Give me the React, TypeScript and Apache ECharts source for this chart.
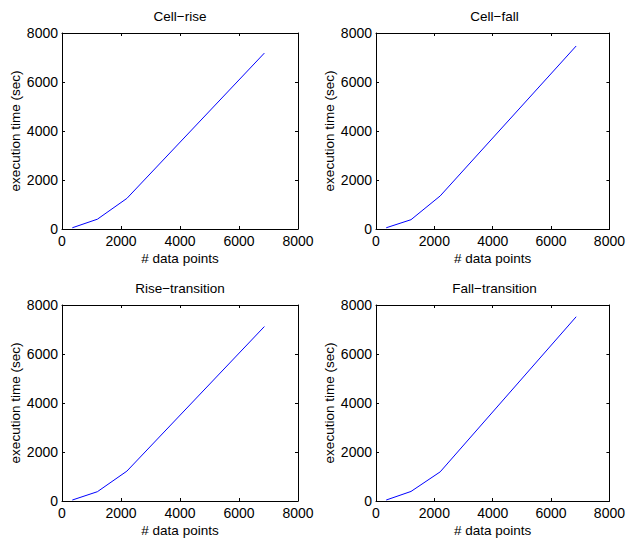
import React, { useEffect, useRef } from "react";
import * as echarts from "echarts";

const titles = ["Cell−rise", "Cell−fall", "Rise−transition", "Fall−transition"];
const dataPoints = [350, 1200, 2200, 6860];
const cellRise = [50, 400, 1250, 7180];
const cellFall = [50, 380, 1350, 7470];
const riseTransition = [40, 380, 1220, 7120];
const fallTransition = [40, 390, 1190, 7520];
const seriesValues = [cellRise, cellFall, riseTransition, fallTransition];
const xAxisName = "# data points";
const yAxisName = "execution time (sec)";

const grids = [
  { left: 62, top: 33, width: 236, height: 196 },
  { left: 376, top: 33, width: 237, height: 196 },
  { left: 62, top: 305, width: 236, height: 196 },
  { left: 376, top: 305, width: 237, height: 196 },
];

const FONT = "Liberation Sans, Arial, Helvetica, sans-serif";

export default function App() {
  const ref = useRef<HTMLDivElement>(null);
  useEffect(() => {
    if (!ref.current) return;
    const chart = echarts.init(ref.current, null, { renderer: "svg" });
    const axisLine = { show: true, onZero: false, lineStyle: { color: "#000", width: 1 } };
    const tick = { show: true, inside: true, length: 3, lineStyle: { color: "#000" } };
    const fmt = (v: number) => String(v);
    const xAxis: any[] = [];
    const yAxis: any[] = [];
    const series: any[] = [];
    const title: any[] = [];
    grids.forEach((g, i) => {
      title.push({
        text: titles[i],
        left: g.left + g.width / 2,
        top: g.top - 24,
        padding: 0,
        textAlign: "center",
        textStyle: { fontFamily: FONT, fontSize: 13.5, fontWeight: "normal", color: "#000" },
      });
      xAxis.push({
        type: "value", gridIndex: i, min: 0, max: 8000, interval: 2000, position: "bottom",
        axisLine, axisTick: tick, splitLine: { show: false },
        axisLabel: { margin: 5, fontFamily: FONT, fontSize: 14, color: "#000", formatter: fmt },
        name: xAxisName, nameLocation: "middle", nameGap: 22,
        nameTextStyle: { fontFamily: FONT, fontSize: 13.5, color: "#000" },
      });
      xAxis.push({
        type: "value", gridIndex: i, min: 0, max: 8000, interval: 2000, position: "top",
        axisLine, axisTick: tick, splitLine: { show: false }, axisLabel: { show: false },
      });
      yAxis.push({
        type: "value", gridIndex: i, min: 0, max: 8000, interval: 2000, position: "left",
        axisLine, axisTick: tick, splitLine: { show: false },
        axisLabel: { margin: 4, fontFamily: FONT, fontSize: 14, color: "#000", formatter: fmt },
        name: yAxisName, nameLocation: "middle", nameGap: 39,
        nameTextStyle: { fontFamily: FONT, fontSize: 13.5, color: "#000" },
      });
      yAxis.push({
        type: "value", gridIndex: i, min: 0, max: 8000, interval: 2000, position: "right",
        axisLine, axisTick: tick, splitLine: { show: false }, axisLabel: { show: false },
      });
      series.push({
        type: "line",
        xAxisIndex: i * 2,
        yAxisIndex: i * 2,
        data: dataPoints.map((x, k) => [x, seriesValues[i][k]]),
        showSymbol: false,
        lineStyle: { color: "#0000ff", width: 1 },
      });
    });
    chart.setOption({
      animation: false,
      backgroundColor: "#fff",
      title,
      grid: grids.map((g) => ({ ...g, containLabel: false })),
      xAxis,
      yAxis,
      series,
    });
    return () => chart.dispose();
  }, []);
  return (
    <div
      ref={ref}
      style={{ position: "fixed", left: 0, top: 0, width: 628, height: 542 }}
    />
  );
}
